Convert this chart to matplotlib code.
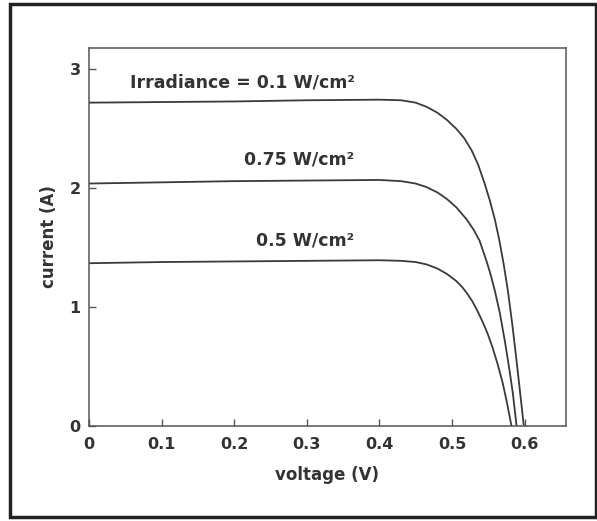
import matplotlib
matplotlib.use("Agg")
import matplotlib.pyplot as plt
from matplotlib.patches import Rectangle

plt.rcParams['font.family'] = ['DejaVu Sans']

# I-V curves (voltage in V, current in A)
v_top = [0, 0.1, 0.2, 0.3, 0.4, 0.43, 0.45, 0.465, 0.48, 0.493, 0.506, 0.517,
         0.527, 0.536, 0.545, 0.552, 0.559, 0.565, 0.571, 0.577, 0.583, 0.588,
         0.593, 0.599]
i_top = [2.72, 2.725, 2.73, 2.74, 2.745, 2.74, 2.72, 2.685, 2.635, 2.575, 2.50, 2.42,
         2.32, 2.20, 2.04, 1.90, 1.74, 1.57, 1.37, 1.14, 0.86, 0.60,
         0.33, 0.0]

v_mid = [0, 0.1, 0.2, 0.3, 0.4, 0.43, 0.45, 0.465, 0.48, 0.493, 0.506, 0.52,
         0.53, 0.538, 0.543, 0.548, 0.553, 0.559, 0.566, 0.573, 0.579, 0.584, 0.589]
i_mid = [2.04, 2.05, 2.06, 2.065, 2.07, 2.06, 2.04, 2.01, 1.965, 1.91, 1.84, 1.74,
         1.65, 1.56, 1.47, 1.38, 1.28, 1.14, 0.95, 0.71, 0.48, 0.27, 0.0]

v_low = [0, 0.1, 0.2, 0.3, 0.4, 0.43, 0.45, 0.465, 0.48, 0.493, 0.506, 0.514,
         0.521, 0.528, 0.535, 0.542, 0.549, 0.556, 0.563, 0.570, 0.576, 0.582]
i_low = [1.37, 1.38, 1.385, 1.39, 1.395, 1.39, 1.38, 1.36, 1.325, 1.28, 1.22, 1.17,
         1.115, 1.05, 0.97, 0.88, 0.78, 0.66, 0.52, 0.36, 0.19, 0.0]

labels = ["Irradiance = 0.1 W/cm²", "0.75 W/cm²", "0.5 W/cm²"]
label_y = [2.89, 2.24, 1.56]

x_ticks = [0, 0.1, 0.2, 0.3, 0.4, 0.5, 0.6]
x_ticklabels = ["0", "0.1", "0.2", "0.3", "0.4", "0.5", "0.6"]
y_ticks = [0, 1, 2, 3]

fig = plt.figure(figsize=(5.97, 5.21), dpi=100)
ax = fig.add_axes([0.149, 0.182, 0.799, 0.726])

line_col = '#3a3a3a'
for v, i in [(v_top, i_top), (v_mid, i_mid), (v_low, i_low)]:
    ax.plot(v, i, color=line_col, lw=1.3)

for txt, y in zip(labels, label_y):
    ax.text(0.366, y, txt, ha='right', va='center', fontsize=12.5,
            fontweight='bold', color='#333333')

ax.set_xlim(0, 0.657)
ax.set_ylim(0, 3.18)
ax.set_xticks(x_ticks)
ax.set_xticklabels(x_ticklabels)
ax.set_yticks(y_ticks)
ax.tick_params(direction='in', length=5, width=1, colors='#555555',
               labelcolor='#333333', labelsize=11.5, top=False, right=False)
ax.tick_params(axis='x', pad=8)
ax.tick_params(axis='y', pad=6)
for lbl in ax.get_xticklabels() + ax.get_yticklabels():
    lbl.set_fontweight('bold')
for s in ax.spines.values():
    s.set_color('#555555')
    s.set_linewidth(1.1)

ax.set_xlabel("voltage (V)", fontsize=12, fontweight='bold', color='#333333', labelpad=10)
ax.set_ylabel("current (A)", fontsize=12, fontweight='bold', color='#333333', labelpad=8)

# dark frame around the scanned figure
fig.patches.append(Rectangle((10 / 597, 4 / 521), 586 / 597, 513 / 521,
                             transform=fig.transFigure, fill=False,
                             lw=2.5, ec='#222222'))

fig.savefig("out.png", dpi=100)
